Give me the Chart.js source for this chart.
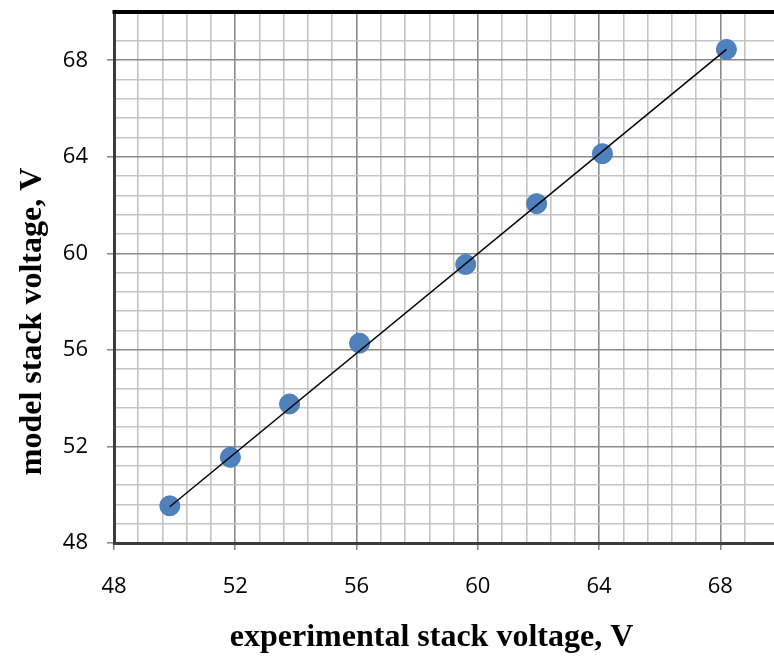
<!DOCTYPE html>
<html>
<head>
<meta charset="utf-8">
<script src="https://cdn.jsdelivr.net/npm/chart.js@4/dist/chart.umd.min.js"></script>
<style>
  html, body { margin: 0; padding: 0; background: #fff; overflow: hidden; }
  #wrap { width: 800px; height: 657px; }
</style>
</head>
<body>
<div id="wrap"><canvas id="voltChart" width="800" height="657"></canvas></div>
<script>
// datos
const expVoltage = [49.84, 51.84, 53.79, 56.10, 59.60, 61.94, 64.11, 68.20];
const modelVoltage = [49.54, 51.55, 53.76, 56.28, 59.54, 62.06, 64.13, 68.45];
const trendX = [49.84, 68.20];
const trendY = [49.50, 68.45];

const axisMin = 48;
const axisMax = 70;
const minorStep = 0.8;
const majorStep = 4;

function isMajor(v) {
    const r = v / majorStep;
    return Math.abs(r - Math.round(r)) < 1e-6;
}

const tickFont = { family: 'Open Sans', size: 22 };
const titleFont = { family: 'Liberation Serif', size: 32, weight: 'bold' };

// espacios al final para correr el titulo como en el original
const nb = n => '\u00a0'.repeat(n);

// borde superior grueso
const topBorder = {
    id: 'topBorder',
    afterDraw(chart) {
        const a = chart.chartArea, ctx = chart.ctx;
        ctx.save();
        ctx.strokeStyle = '#000';
        ctx.lineWidth = 4;
        ctx.beginPath();
        ctx.moveTo(a.left - 1.5, a.top);
        ctx.lineTo(a.right, a.top);
        ctx.stroke();
        ctx.restore();
    }
};

function gridOpts() {
    return {
        color: ctx => isMajor(ctx.tick.value) ? '#8a8a8a' : '#c4c4c4',
        lineWidth: 1.6,
        tickColor: ctx => isMajor(ctx.tick.value) ? '#8a8a8a' : 'rgba(0,0,0,0)',
        tickLength: 7,
        drawTicks: true
    };
}

const data = {
    datasets: [
        {
            type: 'line',
            label: 'trend',
            data: trendX.map((x, i) => ({ x: x, y: trendY[i] })),
            borderColor: '#000',
            borderWidth: 1.5,
            pointRadius: 0,
            fill: false,
            order: 0
        },
        {
            type: 'scatter',
            label: 'model',
            data: expVoltage.map((x, i) => ({ x: x, y: modelVoltage[i] })),
            backgroundColor: '#4F81BD',
            borderColor: '#4A7AB5',
            borderWidth: 1,
            pointRadius: 10,
            order: 1
        }
    ]
};

new Chart(document.getElementById('voltChart'), {
    type: 'scatter',
    data: data,
    options: {
        responsive: false,
        animation: false,
        layout: { padding: { top: 12, right: 19, left: 0, bottom: 0 } },
        plugins: { legend: { display: false }, tooltip: { enabled: false } },
        scales: {
            x: {
                type: 'linear',
                min: axisMin,
                max: axisMax,
                afterFit: s => { s.height = 114; s.paddingLeft = 0; s.paddingRight = 0; },
                ticks: {
                    stepSize: minorStep,
                    autoSkip: false,
                    maxRotation: 0,
                    padding: 24,
                    color: '#000',
                    font: tickFont,
                    callback: v => isMajor(v) ? Math.round(v) : ''
                },
                grid: gridOpts(),
                border: { color: '#3c3c3c', width: 3 },
                title: {
                    display: true,
                    text: 'experimental stack voltage, V' + nb(4),
                    color: '#000',
                    font: titleFont,
                    padding: { top: 0, bottom: 0 }
                }
            },
            y: {
                type: 'linear',
                min: axisMin,
                max: axisMax,
                afterFit: s => { s.width = 114; s.paddingTop = 0; s.paddingBottom = 0; },
                ticks: {
                    stepSize: minorStep,
                    autoSkip: false,
                    padding: 19,
                    color: '#000',
                    font: tickFont,
                    callback: v => isMajor(v) ? Math.round(v) : ''
                },
                grid: gridOpts(),
                border: { color: '#3c3c3c', width: 3 },
                title: {
                    display: true,
                    text: 'model stack voltage, V' + nb(11),
                    color: '#000',
                    font: titleFont,
                    padding: { top: 14, bottom: 0 }
                }
            }
        }
    },
    plugins: [topBorder]
});
</script>
</body>
</html>
